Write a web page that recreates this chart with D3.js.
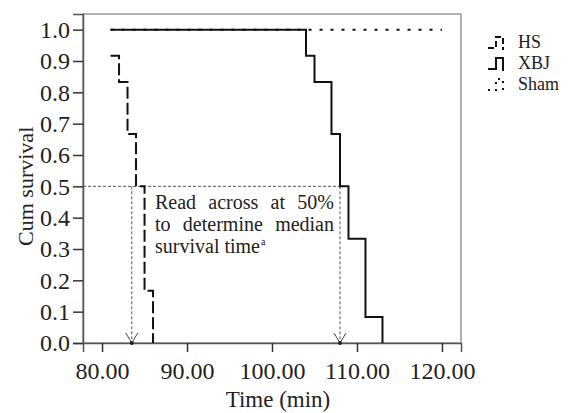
<!DOCTYPE html>
<html>
<head>
<meta charset="utf-8">
<script src="https://cdn.jsdelivr.net/npm/d3@7"></script>
<style>
  body { margin: 0; background: #fff; }
  svg { display: block; }
  svg text { font-family: "Liberation Serif", "Times New Roman", "DejaVu Serif", serif !important; fill: #222; }
</style>
</head>
<body>
<div id="chart"></div>
<script>
// survival data (step functions)
var hsTimes = [81, 82, 83, 84, 85, 86];
var hsSurv = [0.917, 0.833, 0.667, 0.5, 0.167, 0];
var xbjTimes = [81, 104, 105, 107, 108, 109, 111, 113];
var xbjSurv = [1, 0.917, 0.833, 0.667, 0.5, 0.333, 0.083, 0];
var shamTimes = [81, 120];
var shamSurv = [1, 1];

var xTicks = [80, 90, 100, 110, 120];
var yTicks = [0, 0.1, 0.2, 0.3, 0.4, 0.5, 0.6, 0.7, 0.8, 0.9, 1.0];
var medianTimes = [83.5, 108];
var noteLines = ['Read across at 50%', 'to determine median', 'survival time'];

var width = 568, height = 413;
var margin = { top: 14, right: 107, bottom: 70, left: 83 };
var w = width - margin.left - margin.right,
  h = height - margin.top - margin.bottom;

var svg = d3.select('#chart')
  .append('svg')
  .attr('width', width)
  .attr('height', height);

var g = svg.append('g')
  .attr('transform', 'translate(' + margin.left + ',' + margin.top + ')');

var x = d3.scaleLinear()
  .domain([77.76, 122.24])
  .range([0, w]);
var y = d3.scaleLinear()
  .domain([0, 1.05])
  .range([h, 0]);

// frame
g.append('rect')
  .attr('width', w)
  .attr('height', h)
  .attr('fill', 'none')
  .attr('stroke', '#999')
  .attr('stroke-width', 1.5);

// axes
var yAxis = g.append('g')
  .call(d3.axisLeft(y).tickValues(yTicks).tickFormat(d3.format('.1f')).tickSize(10).tickPadding(3));
var xAxis = g.append('g')
  .attr('transform', 'translate(0,' + h + ')')
  .call(d3.axisBottom(x).tickValues(xTicks).tickFormat(d3.format('.2f')).tickSize(9).tickPadding(10));

[yAxis, xAxis].forEach(function (a) {
  a.attr('font-family', null);
  a.select('.domain').attr('stroke', '#555').attr('stroke-width', 1.5);
  a.selectAll('.tick line').attr('stroke', '#333').attr('stroke-width', 1.5);
  a.selectAll('.tick text')
    .style('font-size', '24px')
    .attr('fill', '#222');
});

// axis titles
svg.append('text')
  .attr('transform', 'translate(33,' + (margin.top + y(0.5)) + ') rotate(-90)')
  .attr('text-anchor', 'middle')
  .style('font-size', '22px')
  .text('Cum survival');
svg.append('text')
  .attr('x', margin.left + w / 2 + 6)
  .attr('y', 407)
  .attr('text-anchor', 'middle')
  .style('font-size', '23px')
  .text('Time (min)');

// median reference lines
var refStyle = function (sel) {
  sel.attr('stroke', '#555')
    .attr('stroke-width', 1)
    .attr('stroke-dasharray', '3,2')
    .attr('fill', 'none');
};
g.append('line')
  .attr('x1', 0)
  .attr('x2', x(d3.max(medianTimes)))
  .attr('y1', y(0.5))
  .attr('y2', y(0.5))
  .call(refStyle);

medianTimes.forEach(function (t) {
  g.append('line')
    .attr('x1', x(t)).attr('x2', x(t))
    .attr('y1', y(0.5)).attr('y2', y(0))
    .call(refStyle);
  g.append('path')
    .attr('d', 'M' + (x(t) - 6) + ',' + (y(0) - 10) + 'L' + x(t) + ',' + y(0) + 'L' + (x(t) + 6) + ',' + (y(0) - 10))
    .attr('stroke', '#444')
    .attr('stroke-width', 1)
    .attr('fill', 'none');
  g.append('circle')
    .attr('cx', x(t)).attr('cy', y(0))
    .attr('r', 2)
    .attr('fill', '#222');
});

// survival curves
var line = d3.line()
  .x(function (d) { return x(d[0]); })
  .y(function (d) { return y(d[1]); })
  .curve(d3.curveStepAfter);

var series = [
  { name: 'HS', times: hsTimes, surv: hsSurv, dash: '12,4' },
  { name: 'XBJ', times: xbjTimes, surv: xbjSurv, dash: null },
  { name: 'Sham', times: shamTimes, surv: shamSurv, dash: '3,8' }
];

// draw sham first so the solid line sits on top
series.slice().reverse().forEach(function (s) {
  var pts = s.times.map(function (t, i) { return [t, s.surv[i]]; });
  g.append('path')
    .attr('d', line(pts))
    .attr('fill', 'none')
    .attr('stroke', '#111')
    .attr('stroke-width', 2)
    .attr('stroke-dasharray', s.dash);
});

// justified note
var noteLeft = 155 - margin.left, noteRight = 334 - margin.left;
var noteTop = 209 - margin.top, lineGap = 22;
noteLines.forEach(function (ln, i) {
  var words = ln.split(' ');
  var nodes = words.map(function (wd) {
    return g.append('text')
      .attr('y', noteTop + i * lineGap)
      .style('font-size', '20px')
      .text(wd);
  });
  var widths = nodes.map(function (n) { return n.node().getComputedTextLength(); });
  var gap = 5;
  if (i < noteLines.length - 1) {
    gap = (noteRight - noteLeft - d3.sum(widths)) / (words.length - 1);
  }
  var cx = noteLeft;
  nodes.forEach(function (n, j) {
    n.attr('x', cx);
    cx += widths[j] + gap;
  });
  if (i === noteLines.length - 1) {
    g.append('text')
      .attr('x', cx - gap + 1)
      .attr('y', noteTop + i * lineGap - 8)
      .style('font-size', '10px')
      .text('a');
  }
});

// legend
var legend = svg.append('g')
  .attr('transform', 'translate(488,42)');
series.forEach(function (s, i) {
  var cy = i * 21;
  legend.append('path')
    .attr('d', 'M0,' + (cy + 6) + 'H8V' + (cy - 5) + 'H15V' + (cy + 8))
    .attr('fill', 'none')
    .attr('stroke', '#111')
    .attr('stroke-width', 2)
    .attr('stroke-dasharray', s.dash ? (s.name === 'Sham' ? '2,5' : '6,3') : null);
  legend.append('text')
    .attr('x', 30)
    .attr('y', cy)
    .attr('dy', '0.35em')
    .style('font-size', '18px')
    .text(s.name);
});
</script>
</body>
</html>
